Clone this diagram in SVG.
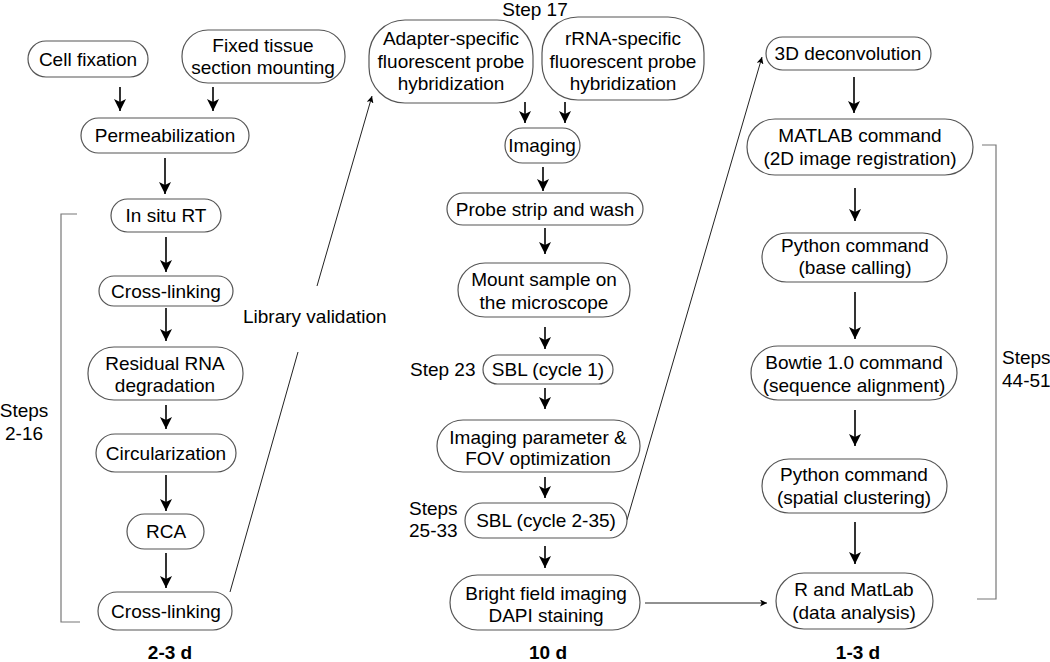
<svg xmlns="http://www.w3.org/2000/svg" width="1050" height="662" viewBox="0 0 1050 662">
<style>
text{font-family:"Liberation Sans",Arial,sans-serif;font-size:19px;fill:#000}
.c{text-anchor:middle}
.b{font-weight:bold}
.n rect{fill:#fff;stroke:#555;stroke-width:1.2}
.a{stroke:#000;stroke-width:1.6;fill:none;marker-end:url(#ah)}
.t{stroke:#222;stroke-width:1;fill:none}
.ta{marker-end:url(#sa)}
.br{stroke:#777;stroke-width:1.2;fill:none}
</style>
<defs>
<marker id="ah" viewBox="0 0 12 12" refX="12" refY="6" markerWidth="12" markerHeight="12" orient="auto" markerUnits="userSpaceOnUse"><path d="M0,0 L12,6 L0,12 L3,6 z" fill="#000"/></marker>
<marker id="sa" viewBox="0 0 8 8" refX="8" refY="4" markerWidth="7" markerHeight="7" orient="auto" markerUnits="userSpaceOnUse"><path d="M0,0 L8,4 L0,8 L2,4 z" fill="#000"/></marker>
</defs>
<rect width="1050" height="662" fill="#fff"/>

<g id="connectors">
<path class="a" d="M120,87 V111"/>
<path class="a" d="M213,87 V111"/>
<path class="a" d="M165,158 V194"/>
<path class="a" d="M166,237 V272"/>
<path class="a" d="M166,308 V341"/>
<path class="a" d="M166,405 V429"/>
<path class="a" d="M166,475 V511"/>
<path class="a" d="M166,553 V588"/>
<path class="a" d="M525,102 V123"/>
<path class="a" d="M565,102 V123"/>
<path class="a" d="M543,167 V191"/>
<path class="a" d="M545,228 V254"/>
<path class="a" d="M545,327 V349"/>
<path class="a" d="M545,388 V409"/>
<path class="a" d="M545,477 V498"/>
<path class="a" d="M545,546 V568"/>
<path class="a" d="M854,77 V113"/>
<path class="a" d="M855,188 V221"/>
<path class="a" d="M855,292 V339"/>
<path class="a" d="M855,410 V446"/>
<path class="a" d="M855,522 V564"/>
<path class="t" d="M230,592 L298,352"/>
<path class="t ta" d="M317,286 L372,96"/>
<path class="t ta" d="M627,520 L762,57"/>
<path class="t ta" d="M645,603 H767"/>
<path class="br" d="M77,214 H61 V622 H80"/>
<path class="br" d="M982,145 H996 V599 H977"/>
</g>

<g id="n-cellfix" class="n"><rect x="28" y="41" width="120" height="36" rx="18"/><text class="c" x="88" y="66">Cell fixation</text></g>
<g id="n-tissue" class="n"><rect x="182" y="30" width="163" height="53" rx="26"/><text class="c" x="263" y="52">Fixed tissue</text><text class="c" x="263" y="74">section mounting</text></g>
<g id="n-perm" class="n"><rect x="81" y="118" width="168" height="35" rx="17.5"/><text class="c" x="165" y="142">Permeabilization</text></g>
<g id="n-rt" class="n"><rect x="111" y="199" width="110" height="33" rx="16.5"/><text class="c" x="166" y="222">In situ RT</text></g>
<g id="n-cl1" class="n"><rect x="99" y="276" width="134" height="30" rx="15"/><text class="c" x="166" y="298">Cross-linking</text></g>
<g id="n-rrna" class="n"><rect x="88" y="347" width="155" height="53" rx="26"/><text class="c" x="165" y="370">Residual RNA</text><text class="c" x="165" y="392">degradation</text></g>
<g id="n-circ" class="n"><rect x="96" y="434" width="140" height="38" rx="19"/><text class="c" x="166" y="460">Circularization</text></g>
<g id="n-rca" class="n"><rect x="127" y="514" width="77" height="35" rx="17.5"/><text class="c" x="166" y="538">RCA</text></g>
<g id="n-cl2" class="n"><rect x="98" y="592" width="134" height="38" rx="19"/><text class="c" x="166" y="618">Cross-linking</text></g>

<g id="n-adapter" class="n"><rect x="369" y="20" width="164" height="83" rx="36"/><text class="c" x="451" y="45">Adapter-specific</text><text class="c" x="451" y="68">fluorescent probe</text><text class="c" x="451" y="90">hybridization</text></g>
<g id="n-rrnaprobe" class="n"><rect x="542" y="17" width="162" height="83" rx="36"/><text class="c" x="623" y="45">rRNA-specific</text><text class="c" x="623" y="68">fluorescent probe</text><text class="c" x="623" y="90">hybridization</text></g>
<g id="n-imaging" class="n"><rect x="505" y="128" width="75" height="35" rx="17.5"/><text class="c" x="542" y="152">Imaging</text></g>
<g id="n-strip" class="n"><rect x="447" y="193" width="196" height="32" rx="16"/><text class="c" x="545" y="216">Probe strip and wash</text></g>
<g id="n-mount" class="n"><rect x="458" y="263" width="172" height="54" rx="27"/><text class="c" x="544" y="286">Mount sample on</text><text class="c" x="544" y="309">the microscope</text></g>
<g id="n-sbl1" class="n"><rect x="483" y="355" width="130" height="29" rx="14.5"/><text class="c" x="548" y="376">SBL (cycle 1)</text></g>
<g id="n-param" class="n"><rect x="437" y="420" width="203" height="52" rx="26"/><text class="c" x="538" y="444">Imaging parameter &amp;</text><text class="c" x="538" y="465">FOV optimization</text></g>
<g id="n-sbl2" class="n"><rect x="465" y="503" width="162" height="35" rx="17.5"/><text class="c" x="546" y="527">SBL (cycle 2-35)</text></g>
<g id="n-bright" class="n"><rect x="450" y="575" width="190" height="55" rx="27.5"/><text class="c" x="546" y="600">Bright field imaging</text><text class="c" x="546" y="622">DAPI staining</text></g>

<g id="n-deconv" class="n"><rect x="766" y="37" width="165" height="33" rx="16.5"/><text class="c" x="848" y="60">3D deconvolution</text></g>
<g id="n-matlab" class="n"><rect x="747" y="119" width="226" height="56" rx="28"/><text class="c" x="860" y="142">MATLAB command</text><text class="c" x="860" y="165">(2D image registration)</text></g>
<g id="n-pybase" class="n"><rect x="762" y="233" width="185" height="49" rx="24.5"/><text class="c" x="855" y="252">Python command</text><text class="c" x="855" y="274">(base calling)</text></g>
<g id="n-bowtie" class="n"><rect x="751" y="346" width="206" height="54" rx="27"/><text class="c" x="854" y="369">Bowtie 1.0 command</text><text class="c" x="854" y="392">(sequence alignment)</text></g>
<g id="n-pyspat" class="n"><rect x="762" y="459" width="185" height="54" rx="27"/><text class="c" x="854" y="481">Python command</text><text class="c" x="854" y="504">(spatial clustering)</text></g>
<g id="n-r" class="n"><rect x="776" y="573" width="157" height="56" rx="28"/><text class="c" x="854" y="596">R and MatLab</text><text class="c" x="854" y="619">(data analysis)</text></g>

<g id="labels">
<text class="c" x="24" y="417">Steps</text>
<text class="c" x="24" y="440">2-16</text>
<text x="243" y="323">Library validation</text>
<text class="c" x="535" y="16">Step 17</text>
<text x="410" y="376">Step 23</text>
<text x="409" y="515">Steps</text>
<text x="409" y="537">25-33</text>
<text x="1002" y="364">Steps</text>
<text x="1002" y="387">44-51</text>
<text class="c b" x="170" y="659">2-3 d</text>
<text class="c b" x="548" y="659">10 d</text>
<text class="c b" x="858" y="659">1-3 d</text>
</g>
</svg>
